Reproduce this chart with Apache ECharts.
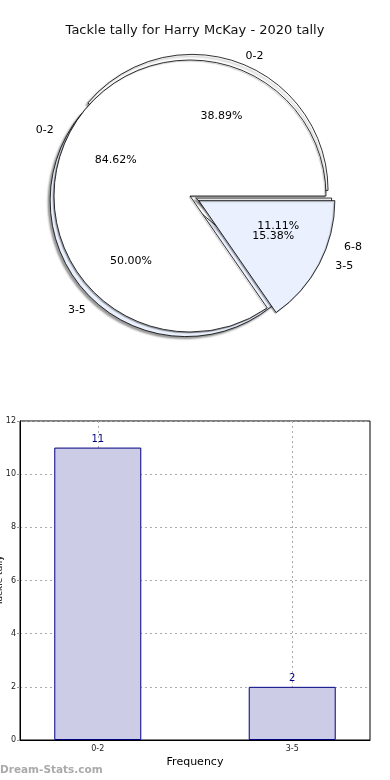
<!DOCTYPE html>
<html>
<head>
<meta charset="utf-8">
<script src="https://cdn.jsdelivr.net/npm/echarts@6/dist/echarts.min.js"></script>
<style>
html,body{margin:0;padding:0;background:#fff;}
#c{width:390px;height:780px;}
</style>
</head>
<body>
<div id="c"></div>
<script>
// ---- data ----
const titleText = 'Tackle tally for Harry McKay - 2020 tally';
const pieACats = ['0-2', '3-5'];
const pieAVals = [11, 2];            // 84.62% / 15.38%
const pieBCats = ['0-2', '3-5', '6-8'];
const pieBVals = [7, 9, 2];          // 38.89% / 50.00% / 11.11%
const barCats = ['0-2', '3-5'];
const barVals = [11, 2];
const barPos = [0, 1];
const yTickMax = 12;
const yTickStep = 2;
const xAxisName = 'Frequency';
const yAxisName = 'Tackle tally';

// ---- style ----
const FONT = 'DejaVu Sans';
const LIGHT = '#eaf0fd';
const R = 136;
const CENTER = [190, 196];
const RX = 140, RY = 128;           // matplotlib draws the pie with unequal aspect
const pieAExplode = [0, 10];
const pieBExplode = [8, 8, 10];

function pieData(cats, vals, colors, selectedIdx) {
  return cats.map((c, i) => ({
    name: c, value: vals[i],
    selected: selectedIdx.indexOf(i) >= 0,
    itemStyle: colors ? { color: colors[i % colors.length] } : undefined
  }));
}
function midAngles(vals) {
  const total = vals.reduce((a, b) => a + b, 0);
  let acc = 0;
  return vals.map(v => { const a0 = acc; acc += v; return (a0 + v / 2) / total * 2 * Math.PI; });
}
function visualPie(cats, vals, selIdx, offset, shadow) {
  return {
    type: 'pie', center: CENTER, radius: [0, R], startAngle: 0, clockwise: false,
    selectedMode: 'multiple', selectedOffset: offset, silent: true, z: 2,
    label: { show: false }, labelLine: { show: false },
    emphasis: { disabled: true }, animation: false,
    itemStyle: Object.assign({ borderColor: '#000', borderWidth: 0.8 }, shadow),
    data: pieData(cats, vals, ['#ffffff', LIGHT], selIdx)
  };
}
function labelPie(cats, vals, explode, dist, fmt, sideAlign) {
  const mids = midAngles(vals);
  return {
    type: 'pie', center: CENTER, radius: [0, R], startAngle: 0, clockwise: false,
    silent: true, z: 10, avoidLabelOverlap: false,
    labelLayout: function (p) {
      const a = mids[p.dataIndex], e = explode[p.dataIndex];
      const x = CENTER[0] + (dist * RX + e) * Math.cos(a);
      const y = CENTER[1] - (dist * RY + e) * Math.sin(a);
      let align = 'center';
      if (sideAlign) align = Math.cos(a) >= 0 ? 'left' : 'right';
      return { x: x, y: y, align: align, verticalAlign: 'middle', hideOverlap: false };
    },
    itemStyle: { color: 'rgba(0,0,0,0)', borderWidth: 0 },
    label: { show: true, position: 'inside', formatter: fmt, fontFamily: FONT, fontSize: 11, color: '#000' },
    labelLine: { show: false }, emphasis: { disabled: true }, animation: false,
    data: pieData(cats, vals, null, [])
  };
}
const pctFmt = p => p.percent.toFixed(2) + '%';
const nameFmt = p => p.name;

const chart = echarts.init(document.getElementById('c'), null, { renderer: 'canvas' });
chart.setOption({
  backgroundColor: '#fff',
  animation: false,
  title: {
    text: titleText, left: 'center', top: 19,
    textStyle: { fontFamily: FONT, fontSize: 13, fontWeight: 'normal', color: '#111' }
  },
  graphic: [{
    type: 'text', left: 0, top: 765,
    style: { text: 'Dream-Stats.com', fontFamily: FONT, fontSize: 10.5, fontWeight: 'bold', fill: '#aaaaaa' }
  }],
  grid: {
    left: 20, right: 20, top: 421, bottom: 40, show: true,
    containLabel: false, outerBoundsMode: 'none',
    borderColor: '#000', borderWidth: 1, backgroundColor: 'transparent'
  },
  xAxis: {
    type: 'value', min: -0.4, max: 1.4,
    name: xAxisName, nameLocation: 'middle', nameGap: 17, nameMoveOverlap: false,
    nameTextStyle: { fontFamily: FONT, fontSize: 11, color: '#000' },
    axisLine: { show: true, onZero: false, lineStyle: { color: '#000' } },
    axisTick: { show: true, inside: true, length: 3, customValues: barPos, lineStyle: { color: '#999' } },
    axisLabel: { customValues: barPos, formatter: v => barCats[Math.round(v)], fontFamily: FONT, fontSize: 8, color: '#222', margin: 5 },
    splitLine: { show: true, lineStyle: { color: '#aaa', type: [2, 3] } }
  },
  yAxis: {
    type: 'value', min: 0, max: yTickMax, interval: yTickStep,
    name: yAxisName, nameLocation: 'middle', nameGap: 16, nameMoveOverlap: false,
    nameTextStyle: { fontFamily: FONT, fontSize: 9, color: '#000' },
    axisLine: { show: true, onZero: false, lineStyle: { color: '#000' } },
    axisTick: { show: true, length: 3, lineStyle: { color: '#999' } },
    axisLabel: { fontFamily: FONT, fontSize: 8, color: '#222', margin: 4 },
    splitLine: { show: true, lineStyle: { color: '#aaa', type: [2, 3] } }
  },
  series: [
    visualPie(pieBCats, pieBVals, [0, 1, 2], 6, { shadowColor: 'rgba(0,0,0,0.4)', shadowBlur: 2, shadowOffsetX: -2, shadowOffsetY: 2 }),
    visualPie(pieACats, pieAVals, [1], 10, { shadowColor: 'rgba(0,0,0,0.3)', shadowBlur: 1, shadowOffsetX: -1, shadowOffsetY: 1 }),
    labelPie(pieBCats, pieBVals, pieBExplode, 0.6, pctFmt, false),
    labelPie(pieBCats, pieBVals, pieBExplode, 1.1, nameFmt, true),
    labelPie(pieACats, pieAVals, pieAExplode, 0.6, pctFmt, false),
    labelPie(pieACats, pieAVals, pieAExplode, 1.1, nameFmt, true),
    {
      type: 'bar', barWidth: 87, silent: true,
      data: barPos.map((x, i) => [x, barVals[i]]),
      itemStyle: { color: '#cccce6', borderColor: '#000080', borderWidth: 1 },
      label: { show: true, position: 'top', distance: 3, color: '#000080', fontFamily: FONT, fontSize: 10, formatter: p => p.value[1] }
    }
  ]
});
</script>
</body>
</html>
